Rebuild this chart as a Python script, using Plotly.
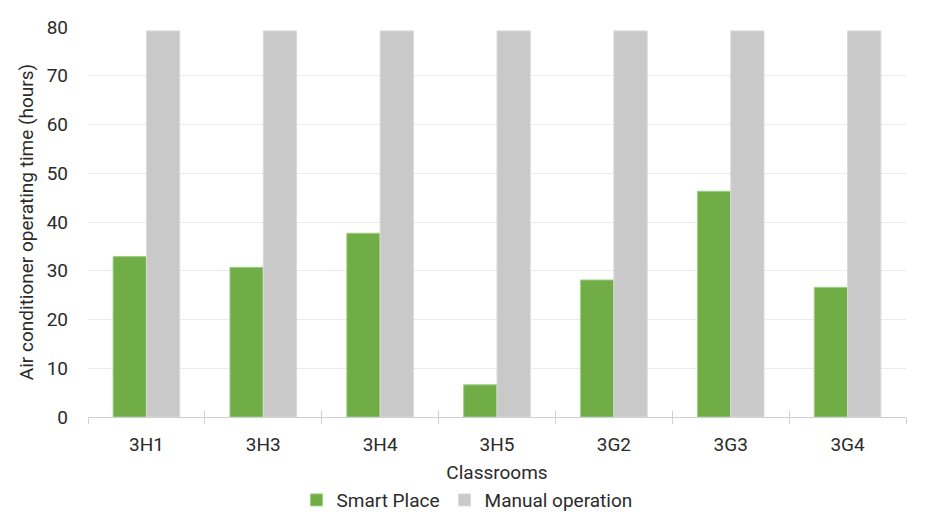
import plotly.graph_objects as go

categories = ["3H1", "3H3", "3H4", "3H5", "3G2", "3G3", "3G4"]
smart_place = [32.9, 30.7, 37.7, 6.6, 28.1, 46.3, 26.6]
manual_operation = [79.2, 79.2, 79.2, 79.2, 79.2, 79.2, 79.2]
y_ticks = [0, 10, 20, 30, 40, 50, 60, 70, 80]

FONT = "Roboto, 'Noto Sans', sans-serif"
TXT = "#2b2b2b"
FS = 19

fig = go.Figure()
fig.add_trace(go.Bar(name="Smart Place", x=categories, y=smart_place,
                     marker=dict(color="#70AD47", line=dict(color="#9fcf80", width=1))))
fig.add_trace(go.Bar(name="Manual operation", x=categories, y=manual_operation,
                     marker=dict(color="#C9C9C9", line=dict(color="#dadada", width=1))))
# invisible helper trace for the inner half of the crossing tick marks
fig.add_trace(go.Scatter(x=categories, y=[0] * len(categories), xaxis="x2",
                         mode="markers", marker=dict(opacity=0), showlegend=False,
                         hoverinfo="skip"))

fig.update_layout(
    width=909, height=507,
    margin=dict(l=80, r=11, t=19, b=98, autoexpand=False),
    paper_bgcolor="white", plot_bgcolor="white",
    barmode="group", bargap=0.43, bargroupgap=0,
    font=dict(family=FONT, size=FS, color=TXT),
    xaxis=dict(
        type="category", categoryorder="array", categoryarray=categories,
        title=dict(text="Classrooms", standoff=10, font=dict(size=FS, color=TXT)),
        showline=True, linecolor="#d0d0d0", linewidth=1,
        ticks="outside", tickson="boundaries", ticklen=6, tickcolor="#d0d0d0",
        ticklabelstandoff=10, automargin=False,
        tickfont=dict(size=FS, color=TXT), showgrid=False, zeroline=False,
    ),
    xaxis2=dict(
        type="category", categoryorder="array", categoryarray=categories,
        overlaying="x", matches="x", anchor="y", side="bottom",
        ticks="inside", tickson="boundaries", ticklen=6, tickcolor="#d0d0d0",
        showticklabels=False, showgrid=False, zeroline=False, showline=False,
        automargin=False,
    ),
    yaxis=dict(
        range=[0, 80], tickvals=y_ticks, ticks="",
        title=dict(text="Air conditioner operating time (hours)", standoff=7,
                   font=dict(size=FS, color=TXT)),
        showgrid=True, gridcolor="#ebebeb", gridwidth=1, zeroline=False,
        ticklabelstandoff=19, tickfont=dict(size=FS, color=TXT), automargin=False,
    ),
    legend=dict(orientation="h", x=0.4633, xanchor="center", y=-0.213, yanchor="middle",
                font=dict(size=FS, color=TXT), itemwidth=30, tracegroupgap=0),
)

fig.write_html("out.html")
